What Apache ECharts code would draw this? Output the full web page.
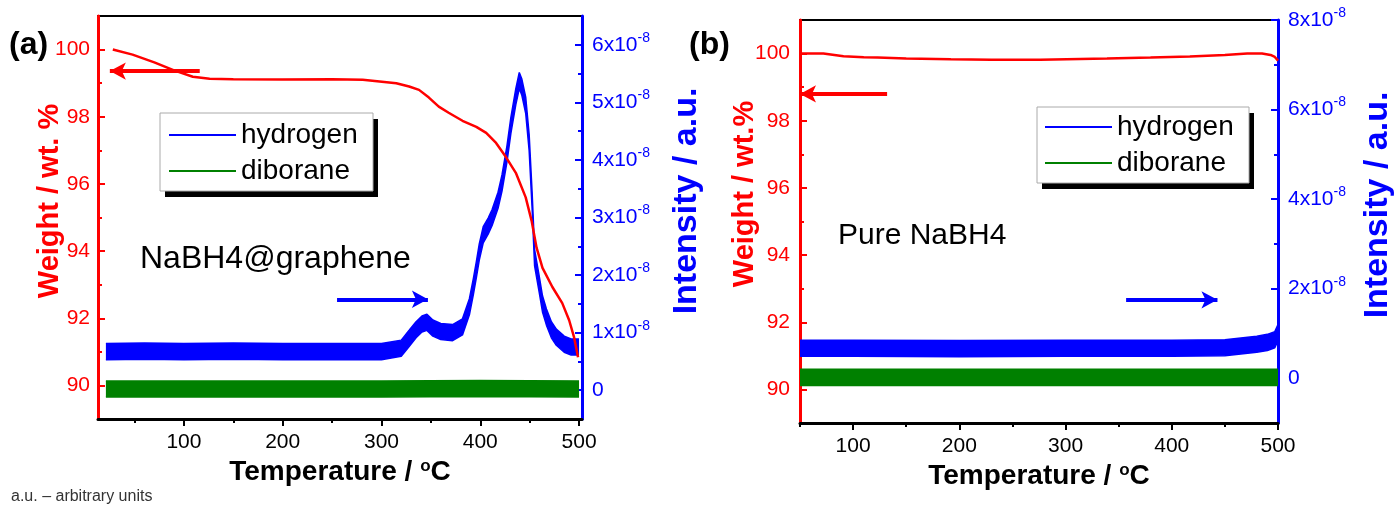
<!DOCTYPE html>
<html>
<head>
<meta charset="utf-8">
<script src="https://cdn.jsdelivr.net/npm/echarts@6/dist/echarts.min.js"></script>
<style>
  html, body { margin: 0; padding: 0; background: #fff; }
  #chart { width: 1395px; height: 506px; }
</style>
</head>
<body>
<div id="chart"></div>
<script>
const RED = '#ff0000';
const BLUE = '#0000ff';
const GREEN = '#008000';
const FONT = '"Liberation Sans", Arial, Helvetica, sans-serif';

// (a) NaBH4@graphene -- TGA weight loss
const tempWeightA = [28, 48, 70, 90, 109, 126, 150, 200, 250, 281, 315, 328, 338, 348, 358, 368, 382, 396, 406, 416, 426, 436, 446, 452, 457, 463, 473, 483, 490, 495, 499];
const weightA = [100.0, 99.85, 99.62, 99.38, 99.19, 99.13, 99.12, 99.11, 99.12, 99.1, 99.0, 98.9, 98.8, 98.57, 98.3, 98.12, 97.88, 97.7, 97.52, 97.22, 96.8, 96.33, 95.6, 94.9, 94.1, 93.5, 92.93, 92.45, 91.94, 91.43, 90.84];
// (a) MS signals, x10^-8 a.u. (centre of the noisy trace)
const tempH2A = [21, 60, 100, 150, 200, 250, 300, 320, 328, 335, 341, 346, 352, 360, 372, 382, 389, 393, 396, 399, 403, 408, 412, 418, 422, 427, 431, 436, 439.5, 442, 446, 449.5, 452.5, 455, 459.6, 463, 467, 472, 477, 485, 492, 500];
const hydrogenA = [0.67, 0.68, 0.67, 0.68, 0.67, 0.67, 0.67, 0.73, 0.9, 1.05, 1.15, 1.18, 1.08, 1.02, 1.0, 1.1, 1.45, 1.8, 2.09, 2.4, 2.7, 2.85, 3.0, 3.3, 3.6, 4.1, 4.6, 5.1, 5.38, 5.27, 4.95, 4.3, 3.3, 2.3, 1.85, 1.5, 1.27, 1.05, 0.92, 0.8, 0.75, 0.75];
const tempB2H6A = [21, 100, 200, 300, 400, 500];
const diboraneA = [0.02, 0.02, 0.02, 0.02, 0.03, 0.02];

// (b) pure NaBH4
const tempWeightB = [50, 72, 91, 110, 123, 150, 192, 230, 276, 339, 380, 417, 450, 471, 485, 493, 497, 500];
const weightB = [100.0, 100.0, 99.92, 99.89, 99.88, 99.85, 99.83, 99.82, 99.82, 99.85, 99.88, 99.91, 99.96, 100.0, 100.0, 99.96, 99.9, 99.79];
const tempH2B = [50, 100, 200, 300, 400, 450, 480, 490, 497, 500];
const hydrogenB = [0.67, 0.67, 0.66, 0.67, 0.67, 0.68, 0.76, 0.8, 0.86, 1.02];
const tempB2H6B = [50, 100, 200, 300, 400, 500];
const diboraneB = [0.02, 0.02, 0.02, 0.02, 0.02, 0.02];

// half width of the noise band of the MS traces (x10^-8)
const noiseA = 0.14;
const noiseB = 0.18;

// tick labels
const tempTicks = [100, 200, 300, 400, 500];
const tempMinor = [50, 150, 250, 350, 450];
const weightTicks = [90, 92, 94, 96, 98, 100];
const weightMinor = [91, 93, 95, 97, 99];
const intensityTicksA = [0, 1, 2, 3, 4, 5, 6];
const intensityMinorA = [0.5, 1.5, 2.5, 3.5, 4.5, 5.5];
const intensityTicksB = [0, 2, 4, 6, 8];
const intensityMinorB = [1, 3, 5, 7];

function pairs(xs, ys) {
  return xs.map((x, i) => [x, ys[i]]);
}

function tempAxes(grid, min, max) {
  return [
    {
      gridIndex: grid, type: 'value', position: 'bottom', min: min, max: max,
      name: 'Temperature / {s|o}C', nameLocation: 'middle', nameGap: 37,
      nameTextStyle: {
        fontSize: 28, fontWeight: 'bold', color: '#000', fontFamily: FONT,
        rich: { s: { fontSize: 17, fontWeight: 'bold', color: '#000', fontFamily: FONT, verticalAlign: 'top' } }
      },
      axisLine: { show: true, onZero: false, lineStyle: { color: '#000', width: 3 } },
      axisTick: { show: true, customValues: tempTicks, length: 7, lineStyle: { color: '#000', width: 2 } },
      axisLabel: { customValues: tempTicks, margin: 13, fontSize: 21, color: '#000', fontFamily: FONT },
      splitLine: { show: false }
    },
    {
      gridIndex: grid, type: 'value', position: 'bottom', min: min, max: max,
      axisLine: { show: false, onZero: false },
      axisTick: { show: true, customValues: tempMinor, length: 4, lineStyle: { color: '#000', width: 2 } },
      axisLabel: { show: false },
      splitLine: { show: false }
    }
  ];
}

function weightAxes(grid, margin) {
  return [
    {
      gridIndex: grid, type: 'value', position: 'left', min: 89, max: 101,
      axisLine: { show: true, onZero: false, lineStyle: { color: RED, width: 3 } },
      axisTick: { show: true, inside: true, customValues: weightTicks, length: 7, lineStyle: { color: RED, width: 2 } },
      axisLabel: { customValues: weightTicks, margin: margin, fontSize: 21, color: RED, fontFamily: FONT },
      splitLine: { show: false }
    },
    {
      gridIndex: grid, type: 'value', position: 'left', min: 89, max: 101,
      axisLine: { show: false, onZero: false },
      axisTick: { show: true, inside: true, customValues: weightMinor, length: 4, lineStyle: { color: RED, width: 2 } },
      axisLabel: { show: false },
      splitLine: { show: false }
    }
  ];
}

function intensityAxes(grid, min, max, ticks, minor) {
  return [
    {
      gridIndex: grid, type: 'value', position: 'right', min: min, max: max,
      axisLine: { show: true, onZero: false, lineStyle: { color: BLUE, width: 3 } },
      axisTick: { show: true, inside: true, customValues: ticks, length: 7, lineStyle: { color: BLUE, width: 2 } },
      axisLabel: {
        customValues: ticks, margin: 10, fontSize: 21, color: BLUE, fontFamily: FONT,
        formatter: v => v === 0 ? '0' : '{n|' + v + 'x10}{s|-8}',
        rich: {
          n: { fontSize: 21, color: BLUE, fontFamily: FONT, lineHeight: 28 },
          s: { fontSize: 14, color: BLUE, fontFamily: FONT, verticalAlign: 'top' }
        }
      },
      splitLine: { show: false }
    },
    {
      gridIndex: grid, type: 'value', position: 'right', min: min, max: max,
      axisLine: { show: false, onZero: false },
      axisTick: { show: true, inside: true, customValues: minor, length: 4, lineStyle: { color: BLUE, width: 2 } },
      axisLabel: { show: false },
      splitLine: { show: false }
    }
  ];
}

// noisy MS trace drawn as a band: lower edge + stacked thickness.
// values go first in each item so that the stack is done on the intensity
function band(name, key, xs, centre, half, color, xi, yi) {
  const common = {
    type: 'line', xAxisIndex: xi, yAxisIndex: yi, encode: { x: 1, y: 0 },
    stack: key, stackStrategy: 'all', symbol: 'none', silent: true,
    itemStyle: { color: color },
    lineStyle: { color: color, width: 1.5 }
  };
  return [
    Object.assign({ name: name + ' low', data: pairs(centre.map(v => v - half), xs) }, common),
    Object.assign({
      name: name, areaStyle: { color: color, opacity: 1 },
      data: pairs(centre.map(() => 2 * half), xs)
    }, common)
  ];
}

function arrow(color, from, to) {
  return {
    silent: true, symbol: ['none', 'arrow'], symbolSize: [13, 16],
    label: { show: false },
    lineStyle: { color: color, width: 4, type: 'solid' },
    data: [[{ coord: from }, { coord: to }]]
  };
}

function weightSeries(xs, ys, xi, yi, arrowFrom, arrowTo) {
  return {
    name: 'weight', type: 'line', xAxisIndex: xi, yAxisIndex: yi,
    symbol: 'none', silent: true, z: 5,
    lineStyle: { color: RED, width: 2.5 },
    itemStyle: { color: RED },
    data: xs.map((x, i) => [x, ys[i]]),
    markLine: arrow(RED, arrowFrom, arrowTo)
  };
}

function arrowSeries(xi, yi, from, to) {
  return {
    name: 'arrow', type: 'line', xAxisIndex: xi, yAxisIndex: yi, data: [],
    markLine: arrow(BLUE, from, to)
  };
}

function legendItems(left, top) {
  return {
    left: left, top: top, orient: 'vertical', selectedMode: false,
    data: ['hydrogen', 'diborane'], icon: 'rect',
    itemWidth: 67, itemHeight: 2, itemGap: 8, padding: 0,
    textStyle: { fontSize: 28, lineHeight: 28, color: '#000', fontFamily: FONT }
  };
}

// legend frame with the offset black shadow
function legendFrame(x, y, w, h) {
  return [
    { type: 'rect', z: 3, silent: true, shape: { x: x + 5, y: y + 6, width: w, height: h }, style: { fill: '#000' } },
    { type: 'rect', z: 3, silent: true, shape: { x: x, y: y, width: w, height: h }, style: { fill: '#fff', stroke: '#aaa', lineWidth: 1 } }
  ];
}

function label(text, x, y, size, opts) {
  return {
    type: 'text', x: x, y: y, z: 100, rotation: (opts && opts.rotation) || 0,
    style: Object.assign({
      text: text, fontSize: size, fontFamily: FONT, fill: '#000',
      align: 'left', verticalAlign: 'middle'
    }, opts && opts.style)
  };
}

const option = {
  animation: false,
  grid: [
    { left: 98, top: 16, width: 484, height: 403, show: true, borderColor: '#000', borderWidth: 2, outerBoundsMode: 'none' },
    { left: 800, top: 20, width: 478, height: 403, show: true, borderColor: '#000', borderWidth: 2, outerBoundsMode: 'none' }
  ],
  xAxis: [].concat(tempAxes(0, 13, 503), tempAxes(1, 50, 500)),
  yAxis: [].concat(
    weightAxes(0, 8),
    intensityAxes(0, -0.5, 6.5, intensityTicksA, intensityMinorA),
    weightAxes(1, 10),
    intensityAxes(1, -1, 8, intensityTicksB, intensityMinorB)
  ),
  legend: [
    legendItems(169, 121),
    legendItems(1045, 113)
  ],
  series: [].concat(
    band('diborane', 'b2h6a', tempB2H6A, diboraneA, noiseA, GREEN, 0, 2),
    band('hydrogen', 'h2a', tempH2A, hydrogenA, noiseA, BLUE, 0, 2),
    arrowSeries(0, 2, [255, 1.58], [347, 1.58]),
    weightSeries(tempWeightA, weightA, 0, 0, [116, 99.36], [25, 99.36]),
    band('diborane', 'b2h6b', tempB2H6B, diboraneB, noiseB, GREEN, 2, 6),
    band('hydrogen', 'h2b', tempH2B, hydrogenB, noiseB, BLUE, 2, 6),
    arrowSeries(2, 6, [357, 1.75], [443, 1.75]),
    weightSeries(tempWeightB, weightB, 2, 4, [132, 98.8], [50, 98.8])
  ),
  graphic: [].concat(
    legendFrame(160, 113, 213, 78),
    legendFrame(1037, 107, 212, 76),
    [
      label('(a)', 9, 45, 32, { style: { fontWeight: 'bold' } }),
      label('(b)', 689, 45, 32, { style: { fontWeight: 'bold' } }),
      label('NaBH4@graphene', 140, 259, 32),
      label('Pure NaBH4', 838, 236, 30),
      label('a.u. \u2013 arbitrary units', 11, 497, 16, { style: { fill: '#333' } }),
      label('Weight / wt. %', 50, 201, 29, { rotation: Math.PI / 2, style: { fontWeight: 'bold', fill: RED, align: 'center' } }),
      label('Intensity / a.u.', 687, 201, 34, { rotation: Math.PI / 2, style: { fontWeight: 'bold', fill: BLUE, align: 'center' } }),
      label('Weight / wt.%', 745, 194, 29, { rotation: Math.PI / 2, style: { fontWeight: 'bold', fill: RED, align: 'center' } }),
      label('Intensity / a.u.', 1378, 205, 34, { rotation: Math.PI / 2, style: { fontWeight: 'bold', fill: BLUE, align: 'center' } })
    ]
  )
};

const chart = echarts.init(document.getElementById('chart'));
chart.setOption(option);
</script>
</body>
</html>
